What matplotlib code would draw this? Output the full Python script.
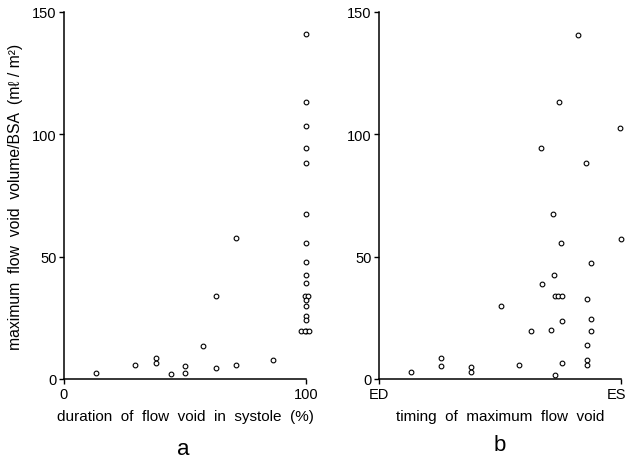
import matplotlib
matplotlib.use("Agg")
import matplotlib.pyplot as plt
import matplotlib.transforms as mtransforms

plt.rcParams['font.family'] = ['Liberation Sans', 'DejaVu Sans']

# Panel a: duration of flow void in systole (%) vs max flow void volume/BSA
dur_x = [13.1, 29.5, 38.1, 38.1, 44.1, 50.1, 50.1, 57.3, 62.8, 62.8, 71.1, 71.1, 86.2,
         100, 100, 100, 100, 100, 100, 100, 100, 100, 100,
         99.5, 100.8, 100, 100, 100, 100, 100, 98.0, 99.6, 101.2]
dur_y = [2.3, 5.7, 8.7, 6.5, 1.9, 5.2, 2.5, 13.5, 33.8, 4.4, 5.7, 57.5, 7.6,
         141, 113.3, 103.5, 94.3, 88.3, 67.4, 55.4, 47.7, 42.5, 39.1,
         34.0, 34.0, 32.3, 29.7, 25.6, 24.2, 19.6, 19.6, 19.6, 19.6]

# Panel b: timing of maximum flow void (ED=0 .. ES=100)
tim_x = [82.1, 74.5, 99.6, 66.9, 85.7,
         72.0, 99.9, 75.2, 87.5, 72.3, 67.2, 72.6, 74.0, 75.5, 86.1,
         50.3, 75.5, 87.7, 62.7, 71.2, 87.7, 86.1, 57.7, 75.5, 86.1, 86.1, 72.6,
         13.2, 25.5, 25.5, 38.0, 38.0]
tim_y = [140.7, 113.3, 102.7, 94.3, 88.3,
         67.4, 57.2, 55.4, 47.3, 42.5, 38.8, 33.8, 33.8, 33.8, 32.8,
         29.7, 23.7, 24.6, 19.7, 19.9, 19.6, 13.8, 5.8, 6.5, 7.8, 5.7, 1.8,
         3.0, 8.7, 5.4, 4.8, 2.7]

y_ticks = [0, 50, 100, 150]
a_xticks = [0, 100]
a_xticklabels = ["0", "100"]
b_xticks = [0, 100]
b_xticklabels = ["ED", "ES"]

fig = plt.figure(figsize=(6.28, 4.60), dpi=100)
W, H = 628.0, 460.0
ax1 = fig.add_axes([64 / W, (H - 380) / H, 242 / W, 367 / H])
ax2 = fig.add_axes([379 / W, (H - 380) / H, 242 / W, 367 / H])

for ax, xs, ys, xt, xtl in [(ax1, dur_x, dur_y, a_xticks, a_xticklabels),
                            (ax2, tim_x, tim_y, b_xticks, b_xticklabels)]:
    ax.plot(xs, ys, linestyle='none', marker='o', markersize=3.4,
            markerfacecolor='white', markeredgecolor='black',
            markeredgewidth=0.8, clip_on=False)
    ax.set_xlim(0, 100)
    ax.set_ylim(0, 150)
    ax.spines['top'].set_visible(False)
    ax.spines['right'].set_visible(False)
    ax.spines['left'].set_linewidth(1.1)
    ax.spines['bottom'].set_linewidth(1.1)
    ax.set_yticks(y_ticks)
    ax.set_yticklabels([str(v) for v in y_ticks], fontsize=10.5)
    ax.set_xticks(xt)
    ax.set_xticklabels(xtl, fontsize=10.5)
    ax.tick_params(axis='both', direction='out', length=3.5, width=1.0,
                   pad=2, colors='black')
    ax.set_facecolor('white')

# keep the "ES" label just inside the figure edge
es_label = ax2.get_xticklabels()[-1]
es_label.set_transform(es_label.get_transform() +
                       mtransforms.ScaledTranslation(-3 / 72, 0, fig.dpi_scale_trans))

ax1.set_ylabel("maximum  flow  void  volume/BSA  (m\u2113 / m\u00b2)",
               fontsize=11.3, labelpad=6)
ax1.set_xlabel("duration  of  flow  void  in  systole  (%)", fontsize=11, labelpad=6)
ax2.set_xlabel("timing  of  maximum  flow  void", fontsize=11, labelpad=6)

fig.text(183 / W, 1 - 450 / H, "a", fontsize=16, ha='center', va='center')
fig.text(500 / W, 1 - 446 / H, "b", fontsize=16, ha='center', va='center')

fig.savefig("out.png", dpi=100)
